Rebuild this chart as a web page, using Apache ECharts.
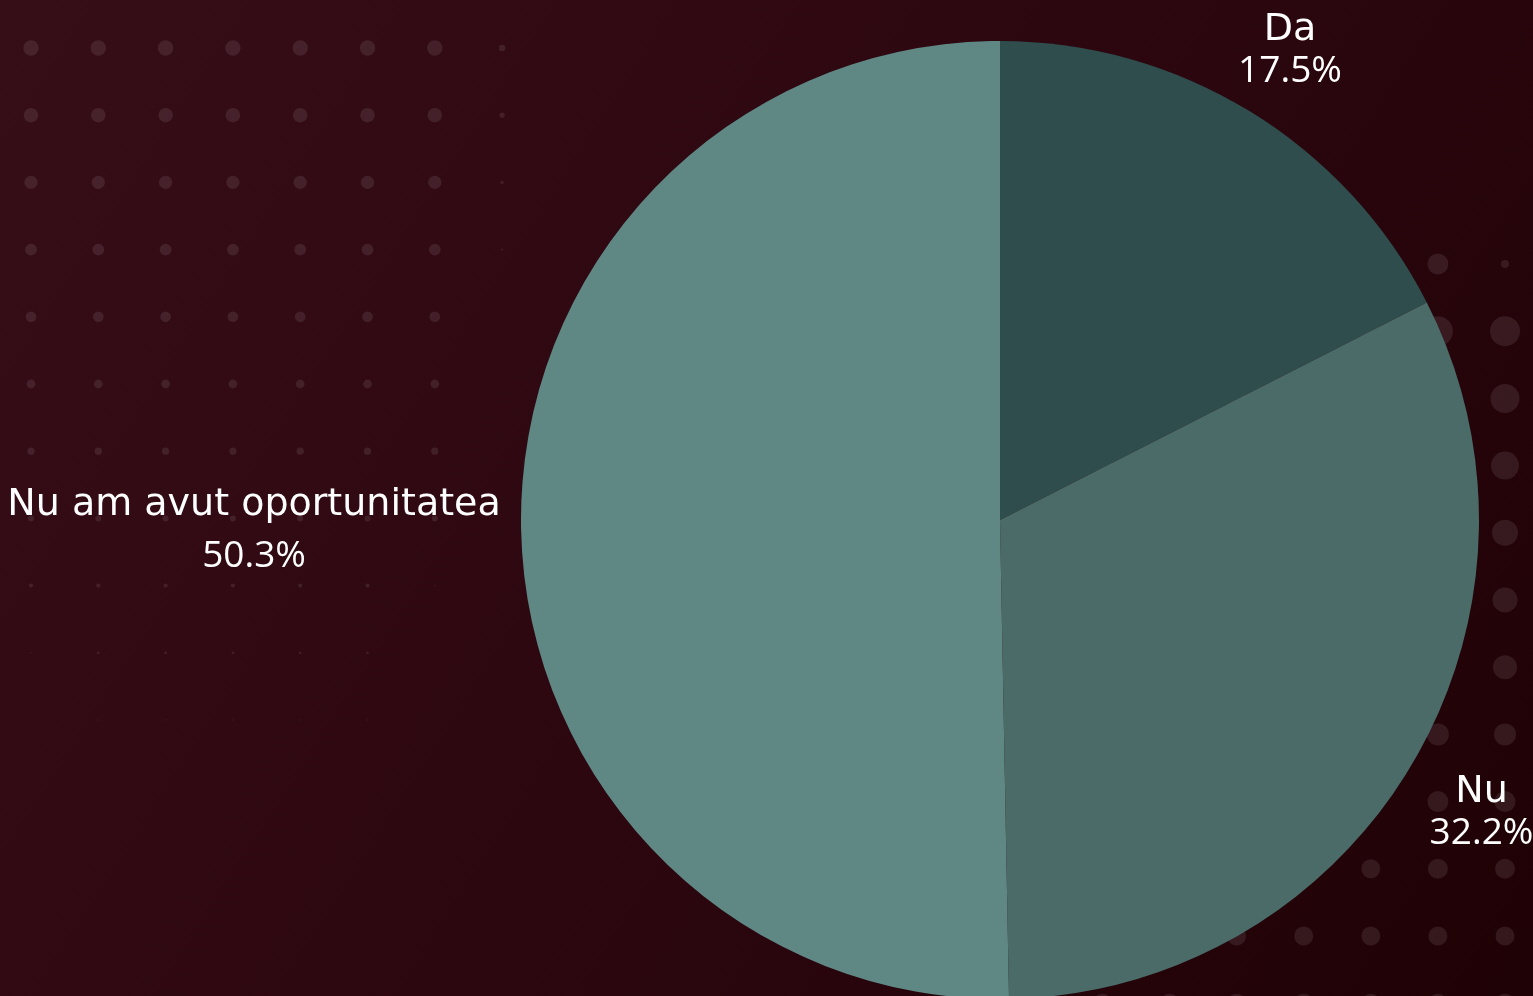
<!DOCTYPE html>
<html><head><meta charset="utf-8">
<script src="https://cdn.jsdelivr.net/npm/echarts@6/dist/echarts.min.js"></script>
<style>html,body{margin:0;padding:0;overflow:hidden;background:#2a070e}#chart{width:1533px;height:996px}</style>
</head><body><div id="chart"></div>
<script>
// ---- data ----
const categories = ['Da', 'Nu', 'Nu am avut oportunitatea'];
const percentages = [17.5, 32.2, 50.3];

// ---- style ----
const sliceColors = ['#2f4d4c', '#4a6b68', '#5f8784'];
const labelLineHeights = [42, 42, 51];
const CX = 1000, CY = 520, R = 479;
const LABEL_GAP = 20;
const CAP_H = 26.5;
const LABEL_DY = 4;

const total = percentages.reduce((a, b) => a + b, 0);
const midAngles = [];
let acc = 0;
percentages.forEach(v => {
  const start = 90 - acc / total * 360;
  acc += v;
  const end = 90 - acc / total * 360;
  midAngles.push((start + end) / 2 * Math.PI / 180);
});

function labelDistance(theta, hw, hh) {
  const c = Math.cos(theta), s = Math.sin(theta);
  for (let d = R; d < R + 800; d += 0.5) {
    const dx = Math.max(Math.abs(d * c) - hw, 0);
    const dy = Math.max(Math.abs(d * s) - hh, 0);
    if (Math.hypot(dx, dy) >= R + LABEL_GAP) return d;
  }
  return R + 800;
}

// ---- decorative dot grids ----
const dotFill = 'rgba(255,255,255,0.09)';
const dots = [];
const tlBase = [15.4, 14.6, 13.3, 11.8, 10.7, 8.8, 7.3, 6, 4.2, 2.7, 1.3];
const tlLastCol = [6.6, 5.3, 3.3, 2, 0.8, 0, 0, 0, 0, 0, 0];
for (let r = 0; r < tlBase.length; r++) {
  for (let c = 0; c < 8; c++) {
    let d = tlBase[r];
    if (c === 7) d = tlLastCol[r];
    if (c === 6 && r >= 8) d = r === 8 ? 1.5 : 0;
    if (c === 0 && r >= 9) d = r === 9 ? 1.4 : 0;
    if (d <= 0) continue;
    dots.push({ cx: 31 + c * 67.3, cy: 48 + r * 67.2, r: d / 2 });
  }
}
const rightBig = [30, 29, 28, 26, 25, 24, 22, 21, 20, 19, 19];
for (let r = 0; r < 12; r++) {
  for (let c = 0; c < 7; c++) {
    let d;
    if (r === 0) d = c === 0 ? 8 : (c === 1 ? 21 : 19);
    else d = c <= 1 ? rightBig[r - 1] : 19;
    dots.push({ cx: 1505 - c * 67.1, cy: 264 + r * 67.2, r: d / 2 });
  }
}

const chart = echarts.init(document.getElementById('chart'), null, { renderer: 'canvas' });
chart.setOption({
  animation: false,
  backgroundColor: new echarts.graphic.LinearGradient(0, 0, 1, 1, [
    { offset: 0, color: '#360e18' },
    { offset: 0.5, color: '#2d0710' },
    { offset: 1, color: '#1f0205' }
  ]),
  graphic: {
    elements: dots.map(p => ({
      type: 'circle', silent: true, z: 0,
      shape: { cx: p.cx, cy: p.cy, r: p.r },
      style: { fill: dotFill }
    }))
  },
  series: [{
    type: 'pie',
    z: 5,
    center: [CX, CY],
    radius: R,
    startAngle: 90,
    clockwise: true,
    avoidLabelOverlap: false,
    itemStyle: { borderWidth: 0 },
    label: {
      show: true,
      position: 'outside',
      formatter: p => '{n|' + p.name + '}\n{v|' + p.value.toFixed(1) + '%}',
      color: '#ffffff',
      align: 'center',
      rich: {
        n: { fontFamily: "'DejaVu Sans', sans-serif", fontSize: 38, color: '#ffffff', align: 'center' },
        v: { fontFamily: "'Open Sans', sans-serif", fontSize: 37, color: '#ffffff', align: 'center' }
      }
    },
    labelLine: { show: false },
    labelLayout: params => {
      const i = params.dataIndex;
      const th = midAngles[i];
      const hw = params.labelRect.width / 2;
      const hh = (labelLineHeights[i] + CAP_H) / 2;
      const d = labelDistance(th, hw, hh);
      return {
        x: CX + d * Math.cos(th),
        y: CY - d * Math.sin(th) + LABEL_DY,
        align: 'center',
        verticalAlign: 'middle'
      };
    },
    emphasis: { disabled: true },
    data: categories.map((name, i) => ({
      name, value: percentages[i],
      itemStyle: { color: sliceColors[i] },
      label: { lineHeight: labelLineHeights[i] }
    }))
  }]
});
</script></body></html>
